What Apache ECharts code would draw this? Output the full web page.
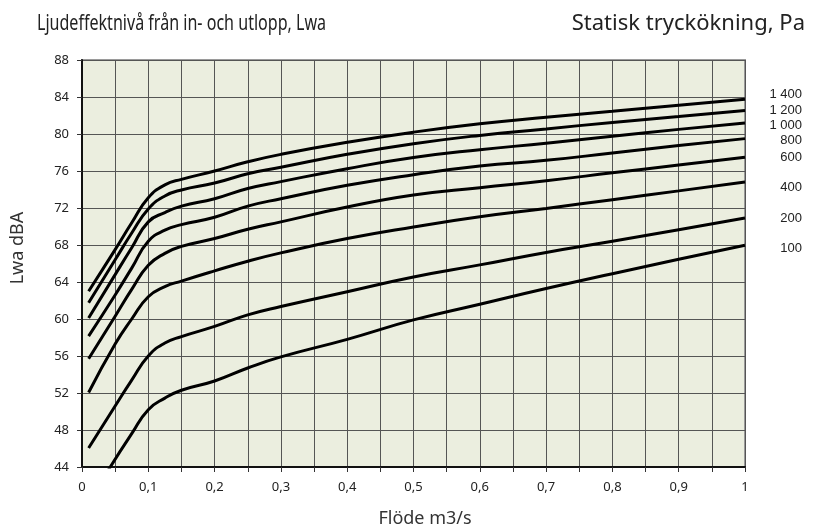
<!DOCTYPE html>
<html>
<head>
<meta charset="utf-8">
<script src="https://cdn.jsdelivr.net/npm/echarts@6/dist/echarts.min.js"></script>
<style>
html,body{margin:0;padding:0;background:#fff;}
#chart{width:813px;height:530px;}
</style>
</head>
<body>
<div id="chart"></div>
<script>
// Flow (m3/s) and sound power level (dBA) for each static pressure rise
const names = ['1 400', '1 200', '1 000', '800', '600', '400', '200', '100'];
const flowA = [0.01, 0.05, 0.075, 0.1, 0.125, 0.15, 0.2, 0.25, 0.3, 0.4, 0.5, 0.6, 0.7, 0.8, 0.9, 1.0];
const flow100 = [0.04, 0.075, 0.1, 0.125, 0.15, 0.2, 0.25, 0.3, 0.4, 0.5, 0.6, 0.7, 0.8, 0.9, 1.0];
const lwa1400 = [63.0, 67.5, 70.4, 73.1, 74.5, 75.1, 76.0, 77.0, 77.8, 79.1, 80.2, 81.1, 81.8, 82.45, 83.1, 83.75];
const lwa1200 = [61.75, 66.4, 69.3, 71.9, 73.3, 73.95, 74.7, 75.7, 76.4, 77.8, 78.95, 79.85, 80.55, 81.25, 81.9, 82.55];
const lwa1000 = [60.1, 64.8, 67.7, 70.5, 71.5, 72.2, 73.0, 74.1, 74.85, 76.25, 77.45, 78.3, 79.0, 79.75, 80.5, 81.2];
const lwa800 = [58.15, 62.6, 65.5, 68.4, 69.6, 70.2, 71.0, 72.2, 73.0, 74.45, 75.6, 76.55, 77.15, 77.95, 78.75, 79.5];
const lwa600 = [55.7, 60.3, 63.2, 65.8, 67.1, 67.85, 68.7, 69.7, 70.5, 72.1, 73.4, 74.2, 74.95, 75.8, 76.65, 77.48];
const lwa400 = [52.05, 57.3, 60.0, 62.4, 63.5, 64.1, 65.2, 66.25, 67.15, 68.7, 69.95, 71.05, 71.95, 72.9, 73.85, 74.8];
const lwa200 = [46.05, 50.6, 53.4, 56.0, 57.4, 58.1, 59.2, 60.45, 61.35, 62.95, 64.55, 65.85, 67.2, 68.4, 69.65, 70.92];
const lwa100 = [43.7, 47.6, 50.2, 51.45, 52.3, 53.3, 54.7, 55.9, 57.8, 59.9, 61.6, 63.3, 64.9, 66.45, 67.98];
const xTicks = [0, 0.1, 0.2, 0.3, 0.4, 0.5, 0.6, 0.7, 0.8, 0.9, 1];
const yMin = 44, yMax = 88, yStep = 4;

const curves = [
  [flowA, lwa1400], [flowA, lwa1200], [flowA, lwa1000], [flowA, lwa800],
  [flowA, lwa600], [flowA, lwa400], [flowA, lwa200], [flow100, lwa100]
];

const chart = echarts.init(document.getElementById('chart'));
const sans = '"Noto Sans", sans-serif';
const labelTops = [94, 110, 125, 140, 157, 187, 218, 248];

function isTick(v) {
  return xTicks.some(t => Math.abs(t - v) < 1e-6);
}

const option = {
  animation: false,
  backgroundColor: '#ffffff',
  grid: {
    left: 82, right: 68, top: 60, bottom: 63,
    show: true, backgroundColor: '#EBEEDF', borderColor: '#9a9a9a', borderWidth: 2
  },
  xAxis: {
    type: 'value', min: 0, max: 1, interval: 0.05,
    axisLine: { show: true, lineStyle: { color: '#111', width: 2 } },
    axisTick: { show: true, length: 5, lineStyle: { color: '#333' },
      interval: function (i, v) { return isTick(Number(v)); } },
    axisLabel: {
      margin: 14, fontSize: 13, color: '#222', fontFamily: sans,
      formatter: function (v) {
        return isTick(v) ? String(Math.round(v * 10) / 10).replace('.', ',') : '';
      }
    },
    splitLine: { show: true, lineStyle: { color: '#555', width: 1 } }
  },
  yAxis: {
    type: 'value', min: yMin, max: yMax, interval: yStep,
    axisLine: { show: true, lineStyle: { color: '#111', width: 2 } },
    axisTick: { show: true, length: 5, lineStyle: { color: '#333' } },
    axisLabel: { margin: 13, fontSize: 13, color: '#222', fontFamily: sans },
    splitLine: { show: true, lineStyle: { color: '#555', width: 1 } }
  },
  series: curves.map((c, i) => ({
    name: names[i],
    type: 'line',
    data: c[0].map((x, j) => [x, c[1][j]]),
    showSymbol: false,
    smooth: 0.5,
    clip: true,
    lineStyle: { color: '#000', width: 3 },
    z: 5
  })),
  graphic: [
    { type: 'text', x: 37, y: 24, scaleX: 0.73,
      style: { text: 'Ljudeffektnivå från in- och utlopp, Lwa', font: '22px ' + sans, fill: '#222',
        align: 'left', verticalAlign: 'middle' } },
    { type: 'text', x: 805, y: 24,
      style: { text: 'Statisk tryckökning, Pa', font: '22px ' + sans, fill: '#222',
        align: 'right', verticalAlign: 'middle' } },
    { type: 'text', x: 425, y: 519,
      style: { text: 'Flöde m3/s', font: '18px ' + sans, fill: '#333',
        align: 'center', verticalAlign: 'middle' } },
    { type: 'text', x: 18, y: 248, rotation: Math.PI / 2,
      style: { text: 'Lwa dBA', font: '18px ' + sans, fill: '#333',
        align: 'center', verticalAlign: 'middle' } }
  ].concat(names.map((n, i) => ({
    type: 'text', x: 802, y: labelTops[i],
    style: { text: n, font: '13px "Liberation Sans", Arial, sans-serif', fill: '#222',
      align: 'right', verticalAlign: 'middle' }
  })))
};
chart.setOption(option);
</script>
</body>
</html>
